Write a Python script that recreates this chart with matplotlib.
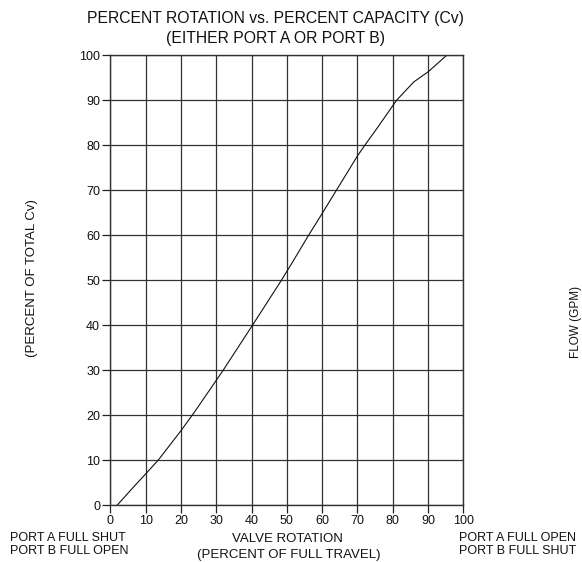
import matplotlib
matplotlib.use("Agg")
import matplotlib.pyplot as plt

# Data
rotation = [2, 6, 10, 13.6, 20, 23.7, 30, 32, 40.3, 48.5, 52, 55.8, 60, 63.2, 70, 72.1, 75.5, 81.1, 86, 90, 95.3]
capacity = [0, 3.5, 6.9, 10, 16.5, 20.5, 27.7, 30, 40, 50, 54.5, 59.5, 64.8, 68.9, 77.6, 80, 83.7, 90, 94.1, 96.3, 100]
x_ticks = [0, 10, 20, 30, 40, 50, 60, 70, 80, 90, 100]
y_ticks = [0, 10, 20, 30, 40, 50, 60, 70, 80, 90, 100]

W, H = 582, 562
plt.rcParams['font.family'] = ['Liberation Sans', 'DejaVu Sans']
fig = plt.figure(figsize=(W / 100, H / 100), dpi=100)

L, R, T, B = 110.3, 463.3, 55.3, 505.0
ax = fig.add_axes([L / W, 1 - B / H, (R - L) / W, (B - T) / H])
ax.set_xlim(0, 100)
ax.set_ylim(0, 100)
ax.set_xticks(x_ticks)
ax.set_yticks(y_ticks)
ax.tick_params(axis='both', direction='out', length=5.8, width=0.9, color='#222222',
               labelsize=9, pad=1.5, labelcolor='#111111')
ax.grid(True, color='#333333', linewidth=0.9)
for s in ax.spines.values():
    s.set_color('#333333')
    s.set_linewidth(1.0)

ax.plot(rotation, capacity, color='#111111', linewidth=0.8)

def fx(px):
    return px / W

def fy(py):
    return 1 - py / H

fig.text(fx(275), fy(19), "PERCENT ROTATION vs. PERCENT CAPACITY (Cv)", ha='center', va='center',
         fontsize=11.3, color='#111111')
fig.text(fx(275), fy(38), "(EITHER PORT A OR PORT B)", ha='center', va='center',
         fontsize=11.3, color='#111111')

fig.text(fx(32), fy(278), "(PERCENT OF TOTAL Cv)", ha='center', va='center', rotation=90,
         fontsize=9.5, color='#111111')

fig.text(fx(287), fy(539), "VALVE ROTATION", ha='center', va='center', fontsize=9.5, color='#111111')
fig.text(fx(289), fy(555), "(PERCENT OF FULL TRAVEL)", ha='center', va='center', fontsize=9.5, color='#111111')

fig.text(fx(10), fy(538), "PORT A FULL SHUT", ha='left', va='center', fontsize=9, color='#111111')
fig.text(fx(10), fy(551.5), "PORT B FULL OPEN", ha='left', va='center', fontsize=9, color='#111111')
fig.text(fx(459), fy(538), "PORT A FULL OPEN", ha='left', va='center', fontsize=9, color='#111111')
fig.text(fx(459), fy(551.5), "PORT B FULL SHUT", ha='left', va='center', fontsize=9, color='#111111')

fig.text(fx(581.5), fy(322), "FLOW (GPM)", ha='right', va='center', rotation=90, fontsize=8.5, color='#111111')

fig.savefig("out.png", dpi=100)
